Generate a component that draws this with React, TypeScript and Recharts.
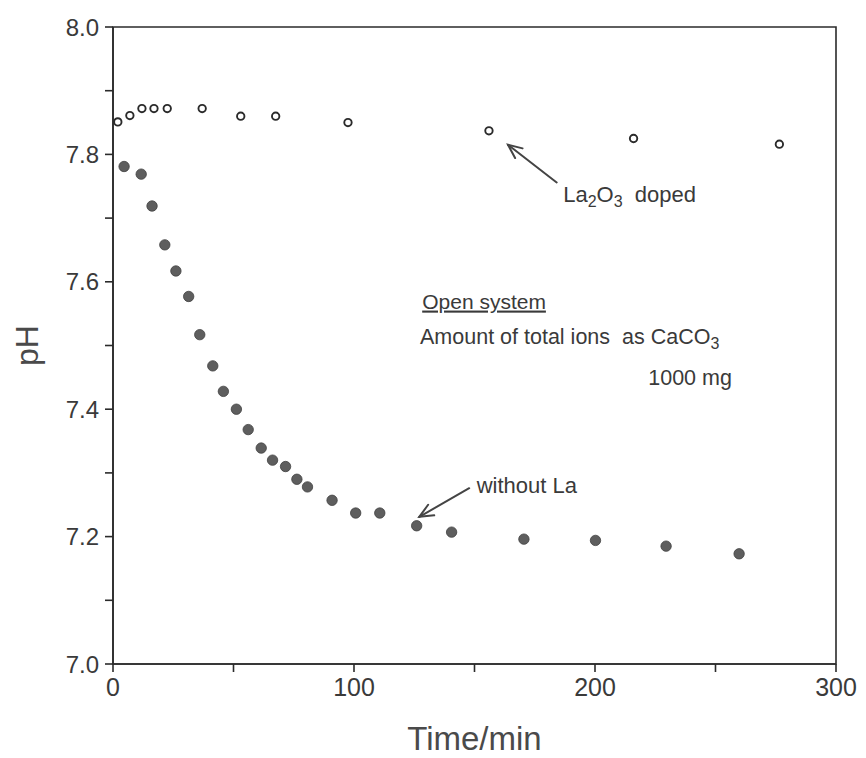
import {
  ReferenceArea,
  ReferenceDot,
  ReferenceLine,
  Scatter,
  ScatterChart,
  XAxis,
  YAxis,
} from 'recharts'

// La2O3 doped (open circles)
const dopedTime = [2, 7, 12, 17, 22.5, 37, 53, 67.5, 97.5, 156, 216, 276.5]
const dopedPh = [7.851, 7.861, 7.872, 7.872, 7.872, 7.872, 7.86, 7.86, 7.85, 7.837, 7.825, 7.816]

// without La (filled circles)
const plainTime = [
  4.6, 11.7, 16.2, 21.5, 26.1, 31.4, 36, 41.4, 45.8, 51.2, 56.1, 61.5, 66.2, 71.6, 76.3, 80.7,
  90.9, 100.7, 110.7, 126, 140.5, 170.5, 200.2, 229.5, 259.8,
]
const plainPh = [
  7.781, 7.769, 7.719, 7.658, 7.617, 7.577, 7.517, 7.468, 7.428, 7.4, 7.368, 7.339, 7.32, 7.31,
  7.29, 7.278, 7.257, 7.237, 7.237, 7.217, 7.207, 7.196, 7.194, 7.185, 7.173,
]

const xTicks = [0, 50, 100, 150, 200, 250, 300]
const yTicks = [7.0, 7.1, 7.2, 7.3, 7.4, 7.5, 7.6, 7.7, 7.8, 7.9, 8.0]

const doped = dopedTime.map((t, i) => ({ t, ph: dopedPh[i] }))
const plain = plainTime.map((t, i) => ({ t, ph: plainPh[i] }))

const FONT = '"Liberation Sans", Arial, Helvetica, sans-serif'
const INK = '#2b2b2b'
const TEXT = '#3a3a3a'

function OpenDot(props: any) {
  return <circle cx={props.cx} cy={props.cy} r={3.7} fill="#fff" stroke={INK} strokeWidth={1.9} />
}

function FilledDot(props: any) {
  return <circle cx={props.cx} cy={props.cy} r={5.2} fill="#5e5e5e" stroke="#404040" strokeWidth={0.8} />
}

function Arrow(props: any) {
  const { x1, y1, x2, y2 } = props
  const a = Math.atan2(y1 - y2, x1 - x2)
  const len = 15
  const spread = 0.42
  const p1 = [x2 + len * Math.cos(a + spread), y2 + len * Math.sin(a + spread)]
  const p2 = [x2 + len * Math.cos(a - spread), y2 + len * Math.sin(a - spread)]
  return (
    <g stroke="#444" strokeWidth={2} fill="none" strokeLinecap="round">
      <line x1={x1} y1={y1} x2={x2} y2={y2} />
      <polyline points={`${p1[0]},${p1[1]} ${x2},${y2} ${p2[0]},${p2[1]}`} />
    </g>
  )
}

function note(render: (x: number, y: number) => any) {
  return (props: any) => {
    const vb = props.viewBox || {}
    return render(vb.x ?? 0, vb.y ?? 0)
  }
}

export default function App() {
  return (
    <div style={{ position: 'absolute', left: 0, top: 0, background: '#fff' }}>
      <ScatterChart
        width={866}
        height={758}
        margin={{ top: 27, right: 30, bottom: 0, left: 0 }}
        style={{ fontFamily: FONT }}
      >
        <ReferenceArea x1={0} x2={300} y1={7} y2={8} fill="none" stroke={INK} strokeWidth={1.6} />
        <XAxis
          type="number"
          dataKey="t"
          domain={[0, 300]}
          ticks={xTicks}
          height={94}
          tickSize={8}
          tickMargin={6}
          stroke={INK}
          strokeWidth={1.6}
          tick={{ fill: TEXT, fontSize: 25, fontFamily: FONT }}
          tickFormatter={(v: number) => (v % 100 === 0 ? String(v) : '')}
          label={{
            content: (p: any) => {
              const vb = p.viewBox || {}
              return (
                <text
                  x={(vb.x ?? 0) + (vb.width ?? 0) / 2}
                  y={750}
                  textAnchor="middle"
                  fontSize={33}
                  fill="#4a4a4a"
                  fontFamily={FONT}
                >
                  Time/min
                </text>
              )
            },
          }}
        />
        <YAxis
          type="number"
          dataKey="ph"
          domain={[7, 8]}
          ticks={yTicks}
          width={113}
          tickSize={8}
          tickMargin={6}
          stroke={INK}
          strokeWidth={1.6}
          allowDataOverflow
          tick={{ fill: TEXT, fontSize: 24, fontFamily: FONT }}
          tickFormatter={(v: number) => (Math.round(v * 10) % 2 === 0 ? v.toFixed(1) : '')}
          label={{
            content: (p: any) => {
              const vb = p.viewBox || {}
              const cy = (vb.y ?? 0) + (vb.height ?? 0) / 2
              return (
                <text
                  x={27}
                  y={cy}
                  textAnchor="middle"
                  dominantBaseline="central"
                  transform={`rotate(-90 27 ${cy})`}
                  fontSize={32}
                  fill="#4a4a4a"
                  fontFamily={FONT}
                >
                  pH
                </text>
              )
            },
          }}
        />
        <Scatter data={doped} shape={OpenDot} isAnimationActive={false} />
        <Scatter data={plain} shape={FilledDot} isAnimationActive={false} />

        <ReferenceLine
          segment={[
            { x: 184.1, y: 7.756 },
            { x: 163.9, y: 7.815 },
          ]}
          ifOverflow="visible"
          shape={Arrow}
        />
        <ReferenceLine
          segment={[
            { x: 147.8, y: 7.276 },
            { x: 127.1, y: 7.231 },
          ]}
          ifOverflow="visible"
          shape={Arrow}
        />

        <ReferenceDot
          x={186.8}
          y={7.726}
          r={0}
          fill="none"
          stroke="none"
          ifOverflow="visible"
          label={note((x, y) => (
            <text x={x} y={y} fontSize={22} fill={TEXT} fontFamily={FONT}>
              La
              <tspan dy={5} fontSize={16}>2</tspan>
              <tspan dy={-5}>O</tspan>
              <tspan dy={5} fontSize={16}>3</tspan>
              <tspan dy={-5}>{'\u00a0 doped'}</tspan>
            </text>
          ))}
        />
        <ReferenceDot
          x={128.3}
          y={7.558}
          r={0}
          fill="none"
          stroke="none"
          ifOverflow="visible"
          label={note((x, y) => (
            <text x={x} y={y} fontSize={21} fill={TEXT} fontFamily={FONT} textDecoration="underline">
              Open system
            </text>
          ))}
        />
        <ReferenceDot
          x={127.4}
          y={7.502}
          r={0}
          fill="none"
          stroke="none"
          ifOverflow="visible"
          label={note((x, y) => (
            <text x={x} y={y} fontSize={21.5} fill={TEXT} fontFamily={FONT}>
              {'Amount of total ions\u00a0 as CaCO'}
              <tspan dy={5} fontSize={16}>3</tspan>
            </text>
          ))}
        />
        <ReferenceDot
          x={222.1}
          y={7.438}
          r={0}
          fill="none"
          stroke="none"
          ifOverflow="visible"
          label={note((x, y) => (
            <text x={x} y={y} fontSize={21.5} fill={TEXT} fontFamily={FONT}>
              1000 mg
            </text>
          ))}
        />
        <ReferenceDot
          x={150.9}
          y={7.268}
          r={0}
          fill="none"
          stroke="none"
          ifOverflow="visible"
          label={note((x, y) => (
            <text x={x} y={y} fontSize={22} fill={TEXT} fontFamily={FONT}>
              without La
            </text>
          ))}
        />
      </ScatterChart>
    </div>
  )
}
